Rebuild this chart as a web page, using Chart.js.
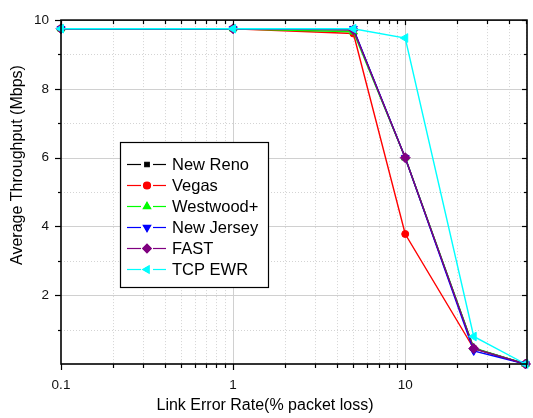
<!DOCTYPE html>
<html>
<head>
<meta charset="utf-8">
<script src="https://cdn.jsdelivr.net/npm/chart.js@4.4.1/dist/chart.umd.min.js"></script>
<style>
html,body{margin:0;padding:0;background:#fff;}
#wrap{width:533px;height:418px;position:relative;}
</style>
</head>
<body>
<div id="wrap"><canvas id="c" width="533" height="418"></canvas></div>
<script>
// ---- data ----
const lossRates = [0.1, 1, 5, 10, 25, 50];
const newReno   = [9.75, 9.75, 9.72, 6.0, 0.45, 0.0];
const vegas     = [9.75, 9.75, 9.61, 3.78, 0.45, 0.0];
const westwood  = [9.75, 9.75, 9.66, 6.0, 0.47, 0.0];
const newJersey = [9.75, 9.75, 9.75, 6.0, 0.38, 0.0];
const fast      = [9.75, 9.75, 9.72, 6.0, 0.45, 0.0];
const tcpEwr    = [9.75, 9.75, 9.75, 9.48, 0.80, 0.0];
const seriesNames = ['New Reno', 'Vegas', 'Westwood+', 'New Jersey', 'FAST', 'TCP EWR'];
const xTickLabels = [0.1, 1, 10];
const yTickLabels = [2, 4, 6, 8, 10];
const xTitle = 'Link Error Rate(% packet loss)';
const yTitle = 'Average Throughput (Mbps)';

const seriesValues = [newReno, vegas, westwood, newJersey, fast, tcpEwr];
const styles = [
  {color:'#000000', point:'rect', rot:0, r:3.5},
  {color:'#ff0000', point:'circle', rot:0, r:3.5},
  {color:'#00ff00', point:'triangle', rot:0, r:4.5},
  {color:'#0000ff', point:'triangle', rot:180, r:4.5},
  {color:'#800080', point:'rectRot', rot:0, r:5},
  {color:'#00ffff', point:'triangle', rot:-90, r:5}
];

const datasets = seriesValues.map((vals, i) => ({
  label: seriesNames[i],
  data: lossRates.map((x, j) => ({x: x, y: vals[j]})),
  borderColor: styles[i].color,
  backgroundColor: styles[i].color,
  borderWidth: 1.4,
  pointStyle: styles[i].point,
  rotation: styles[i].rot,
  pointRadius: styles[i].r,
  pointBorderWidth: 1,
  order: seriesValues.length - 1 - i,
  tension: 0,
  clip: 6
}));

const FONT = '"Liberation Sans", Arial, sans-serif';

const framePlugin = {
  id: 'frame',
  beforeDatasetsDraw(chart) {
    const {ctx, chartArea: a, scales: {x, y}} = chart;
    ctx.save();
    ctx.strokeStyle = '#d4d4d4';
    ctx.lineWidth = 1;
    ctx.setLineDash([1, 2]);
    const minorsX = [];
    for (let d = 0.1; d < 100; d *= 10) {
      for (let k = 2; k <= 9; k++) {
        const v = +(k * d).toPrecision(3);
        if (v > x.min && v < x.max) minorsX.push(v);
      }
    }
    const minorsY = [1, 3, 5, 7, 9];
    minorsX.forEach(v => {
      const px = Math.round(x.getPixelForValue(v)) + 0.5;
      ctx.beginPath(); ctx.moveTo(px, a.top); ctx.lineTo(px, a.bottom); ctx.stroke();
    });
    minorsY.forEach(v => {
      const py = Math.round(y.getPixelForValue(v)) + 0.5;
      ctx.beginPath(); ctx.moveTo(a.left, py); ctx.lineTo(a.right, py); ctx.stroke();
    });
    ctx.setLineDash([]);
    ctx.strokeStyle = '#d0d0d0';
    xTickLabels.forEach(v => {
      if (v <= x.min) return;
      const px = Math.round(x.getPixelForValue(v)) + 0.5;
      ctx.beginPath(); ctx.moveTo(px, a.top); ctx.lineTo(px, a.bottom); ctx.stroke();
    });
    yTickLabels.forEach(v => {
      if (v >= y.max) return;
      const py = Math.round(y.getPixelForValue(v)) + 0.5;
      ctx.beginPath(); ctx.moveTo(a.left, py); ctx.lineTo(a.right, py); ctx.stroke();
    });
    ctx.restore();
    chart.$minorsX = minorsX; chart.$minorsY = minorsY;
  },
  afterDatasetsDraw(chart) {
    const {ctx, chartArea: a, scales: {x, y}} = chart;
    ctx.save();
    ctx.strokeStyle = '#000';
    ctx.lineWidth = 1.6;
    ctx.strokeRect(a.left, a.top, a.right - a.left, a.bottom - a.top);
    ctx.lineWidth = 1.2;
    const xt = (v, len, inLen) => {
      const px = Math.round(x.getPixelForValue(v)) + 0.5;
      ctx.beginPath(); ctx.moveTo(px, a.bottom); ctx.lineTo(px, a.bottom + len); ctx.stroke();
      ctx.beginPath(); ctx.moveTo(px, a.top); ctx.lineTo(px, a.top + inLen); ctx.stroke();
    };
    xTickLabels.forEach(v => xt(v, 6, 5));
    chart.$minorsX.forEach(v => xt(v, 4, 4));
    const yt = (v, len, inLen) => {
      const py = Math.round(y.getPixelForValue(v)) + 0.5;
      ctx.beginPath(); ctx.moveTo(a.left, py); ctx.lineTo(a.left - len, py); ctx.stroke();
      ctx.beginPath(); ctx.moveTo(a.right, py); ctx.lineTo(a.right - inLen, py); ctx.stroke();
    };
    yTickLabels.forEach(v => yt(v, 6, 5));
    chart.$minorsY.forEach(v => yt(v, 3, 3));
    ctx.restore();
  },
  afterDraw(chart) {
    const {ctx} = chart;
    ctx.save();
    ctx.fillStyle = '#000';
    ctx.font = '16px ' + FONT;
    ctx.textAlign = 'center';
    ctx.textBaseline = 'middle';
    ctx.fillText(xTitle, 265, 406);
    ctx.translate(18, 165);
    ctx.rotate(-Math.PI / 2);
    ctx.fillText(yTitle, 0, 0);
    ctx.restore();

    ctx.save();
    const L = 120, T = 142, W = 148, H = 145;
    ctx.fillStyle = '#fff';
    ctx.fillRect(L, T, W, H);
    ctx.strokeStyle = '#000';
    ctx.lineWidth = 1.2;
    ctx.strokeRect(L + 0.5, T + 0.5, W, H);
    ctx.font = '16.5px ' + FONT;
    ctx.textAlign = 'left';
    ctx.textBaseline = 'middle';
    chart.data.datasets.forEach((ds, i) => {
      const cy = T + 22 + i * 21;
      ctx.strokeStyle = ds.borderColor;
      ctx.lineWidth = 1.2;
      ctx.beginPath(); ctx.moveTo(127, cy + 0.5); ctx.lineTo(141, cy + 0.5); ctx.stroke();
      ctx.beginPath(); ctx.moveTo(153, cy + 0.5); ctx.lineTo(166, cy + 0.5); ctx.stroke();
      Chart.helpers.drawPoint(ctx, {
        pointStyle: ds.pointStyle, rotation: ds.rotation,
        radius: ds.pointStyle === 'rect' ? 3.2 : (ds.pointStyle === 'circle' ? 3.5 : 4.3),
        borderWidth: 1
      }, 147, cy + 0.5);
      ctx.fillStyle = ds.backgroundColor;
      ctx.strokeStyle = ds.borderColor;
      ctx.fill();
      ctx.fillStyle = '#000';
      ctx.fillText(ds.label, 172, cy + 1);
    });
    ctx.restore();
  }
};

new Chart(document.getElementById('c'), {
  type: 'line',
  data: {datasets: datasets},
  options: {
    responsive: false,
    animation: false,
    events: [],
    layout: {padding: {top: 15, right: 3, left: 0, bottom: 0}},
    plugins: {legend: {display: false}, tooltip: {enabled: false}},
    scales: {
      x: {
        type: 'logarithmic',
        min: 0.1, max: 51,
        afterFit: s => { s.height = 54; },
        afterBuildTicks: s => { s.ticks = xTickLabels.map(v => ({value: v})); },
        grid: {display: false, drawTicks: false},
        border: {display: false},
        ticks: {
          autoSkip: false, maxRotation: 0, padding: 13, color: '#111',
          font: {family: FONT, size: 13.5},
          callback: v => String(v)
        }
      },
      y: {
        type: 'linear',
        min: 0, max: 10,
        afterFit: s => { s.width = 61; },
        afterBuildTicks: s => { s.ticks = yTickLabels.map(v => ({value: v})); },
        grid: {display: false, drawTicks: false},
        border: {display: false},
        ticks: {
          padding: 12, color: '#111',
          font: {family: FONT, size: 13.5},
          callback: v => String(v)
        }
      }
    }
  },
  plugins: [framePlugin]
});
</script>
</body>
</html>
